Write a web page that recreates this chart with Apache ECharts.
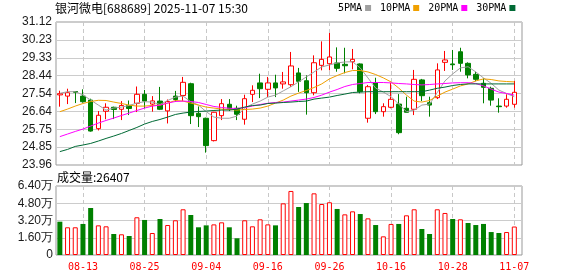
<!DOCTYPE html>
<html><head><meta charset="utf-8">
<script src="https://cdn.jsdelivr.net/npm/echarts@6/dist/echarts.min.js"></script>
<style>html,body{margin:0;padding:0;background:#fff}#c{width:578px;height:276px}</style>
</head><body><div id="c"></div>
<script>
const dates = ['08-08','08-11','08-12','08-13','08-14','08-15','08-18','08-19','08-20','08-21','08-22','08-25','08-26','08-27','08-28','08-29','09-01','09-02','09-03','09-04','09-05','09-08','09-09','09-10','09-11','09-12','09-15','09-16','09-17','09-18','09-19','09-22','09-23','09-24','09-25','09-26','09-29','09-30','10-09','10-10','10-13','10-14','10-15','10-16','10-17','10-20','10-21','10-22','10-23','10-24','10-27','10-28','10-29','10-30','10-31','11-03','11-04','11-05','11-06','11-07'];
const openP = [27.47,27.41,27.64,27.41,27.21,25.78,26.65,26.85,26.75,26.94,27.05,27.50,27.01,27.16,26.67,27.41,27.44,28.03,26.55,26.30,25.18,26.43,27.00,26.80,26.25,27.50,28.07,27.75,28.07,28.02,27.98,28.57,28.18,27.58,28.95,29.03,29.07,29.00,29.13,29.02,26.30,28.08,26.63,26.85,27.01,26.80,26.75,28.22,27.08,27.33,29.10,29.02,29.63,29.05,28.50,28.05,27.80,26.91,26.91,27.00];
const closeP = [27.53,27.58,27.60,27.13,25.66,26.45,26.85,26.74,26.94,26.79,27.50,27.16,27.17,26.75,27.14,27.24,28.10,26.43,26.38,24.93,26.60,27.03,26.80,26.50,27.28,27.70,27.78,28.07,27.82,28.12,28.92,28.15,27.58,29.08,29.25,29.37,28.80,28.93,29.25,27.63,27.88,26.63,26.88,27.25,25.58,26.60,28.25,27.43,26.96,28.72,29.22,28.98,29.05,28.47,28.25,27.85,27.21,26.88,27.25,27.60];
const lowP = [26.88,27.01,27.06,27.08,25.63,25.69,26.25,26.26,26.21,26.46,26.61,26.80,26.63,26.71,26.04,27.13,27.16,26.01,25.86,24.58,25.14,26.21,26.66,26.21,25.98,27.11,27.31,27.36,27.36,27.78,27.87,27.62,26.48,27.45,28.70,28.70,28.63,28.55,28.75,27.55,26.08,26.51,26.38,26.80,25.50,26.58,26.46,27.16,26.38,27.26,28.67,28.72,28.63,28.30,28.15,27.05,26.93,26.58,26.83,26.83];
const highP = [27.68,27.78,27.66,27.75,27.28,26.66,27.05,26.88,27.16,27.19,27.89,27.72,27.41,27.87,27.24,27.67,28.37,28.08,26.89,26.33,26.62,27.26,27.26,26.93,27.48,27.95,28.53,28.37,28.48,28.62,29.62,28.82,28.45,29.45,30.15,30.57,29.85,29.83,29.77,29.05,27.97,28.33,27.05,28.08,27.51,27.38,28.72,28.27,27.38,29.05,29.67,29.72,29.83,29.10,28.63,28.30,27.88,27.30,27.50,28.17];
const ma5 = [27.55,27.63,27.63,27.47,27.21,26.96,26.71,26.81,26.86,26.94,27.06,27.13,27.11,26.99,27.19,27.36,27.41,27.13,26.96,26.63,26.36,26.30,26.30,26.41,26.81,27.01,27.16,27.36,27.46,27.67,27.88,28.12,28.37,28.62,28.87,28.97,29.07,29.12,29.13,28.82,28.32,27.81,27.61,27.38,27.01,26.63,26.71,26.96,27.01,27.59,28.17,28.52,28.82,28.88,28.62,28.32,28.05,27.71,27.54,27.38];
const ma10 = [26.63,26.76,26.91,27.04,27.14,27.20,27.19,27.11,27.04,26.96,26.91,26.91,26.94,26.96,27.06,27.19,27.16,27.06,26.96,26.86,26.81,26.76,26.74,26.71,26.74,26.76,26.81,26.91,27.06,27.21,27.41,27.56,27.69,27.84,28.02,28.27,28.44,28.59,28.69,28.69,28.62,28.49,28.32,28.12,27.81,27.46,27.16,27.11,27.19,27.41,27.61,27.76,27.92,28.02,28.17,28.27,28.24,28.17,28.14,28.12];
const ma20 = [25.38,25.51,25.64,25.76,25.91,26.06,26.19,26.31,26.44,26.56,26.69,26.81,26.91,26.96,27.06,27.14,27.16,27.14,27.09,26.99,26.89,26.84,26.80,26.79,26.84,26.91,26.99,27.05,27.09,27.11,27.16,27.21,27.26,27.34,27.46,27.61,27.74,27.89,27.99,28.04,28.09,28.09,28.09,28.07,28.04,28.02,27.99,27.97,27.99,28.02,28.04,28.07,28.08,28.08,28.04,27.92,27.76,27.61,27.54,27.46];
const ma30 = [24.63,24.74,24.89,24.96,25.04,25.16,25.29,25.41,25.54,25.69,25.84,26.01,26.14,26.24,26.36,26.49,26.56,26.61,26.64,26.66,26.69,26.71,26.71,26.76,26.86,26.94,26.96,27.04,27.06,27.09,27.11,27.14,27.16,27.26,27.31,27.36,27.44,27.51,27.59,27.61,27.63,27.63,27.63,27.63,27.63,27.63,27.63,27.63,27.71,27.80,27.86,27.94,27.99,28.02,28.02,28.02,28.02,28.02,28.02,28.02];
const volume = [30900,25700,25700,28800,43600,27500,26600,19500,19200,17600,35000,32500,20400,33400,27800,32200,42400,37100,25700,27500,28400,30300,25700,15500,32200,26600,33100,28400,27500,47900,59400,44500,48200,57200,47300,48900,42700,37700,40500,38000,34000,27800,17300,28800,28800,36800,42400,24100,19500,42400,39000,33400,33100,29700,27800,28800,21300,20400,21300,26407];
const volDir = [-1,1,1,-1,-1,1,1,-1,1,-1,1,-1,1,-1,1,1,1,-1,-1,-1,1,1,-1,-1,1,1,1,1,-1,1,1,-1,-1,1,1,1,-1,1,1,-1,1,-1,1,1,-1,1,1,-1,-1,1,1,-1,1,-1,-1,-1,-1,-1,1,1];
const priceTicks = ['23.96','24.85','25.75','26.64','27.54','28.44','29.33','30.23','31.12'];
const volTicks = ['0','1.60万','3.20万','4.80万','6.40万'];
const maNames = ['5PMA','10PMA','20PMA','30PMA'];
const maColors = ['#a0a0a0','#f0a000','#ff00ff','#006a35'];
const titleText = '银河微电[688689] 2025-11-07 15:30';
const volText = '成交量:26407';

const chart = echarts.init(document.getElementById('c'), null, {renderer: 'canvas'});
const L = 56, W = 466, DW = W / 60.5 * 60;
const labelFn = (idx) => (idx - 3) % 8 === 0;
const dashLine = {show: true, interval: labelFn, alignWithLabel: true, lineStyle: {color: '#c8c8c8', type: [4, 3], width: 1}};
const lblFont = {fontFamily: 'Liberation Sans', fontSize: 12, color: '#1a1a1a'};

const option = {
  animation: false,
  backgroundColor: '#fff',
  title: [
    {text: titleText, left: 55, top: 2, padding: 0, textStyle: {fontFamily: 'Noto Sans CJK SC', fontSize: 12, fontWeight: 'normal', color: '#000'}},
    {text: volText, left: 57, top: 171, padding: 0, textStyle: {fontFamily: 'Noto Sans CJK SC', fontSize: 12, fontWeight: 'normal', color: '#000'}}
  ],
  legend: {left: 338, top: 3, padding: 0, align: 'right', icon: 'rect', itemWidth: 6, itemHeight: 6, itemGap: 9, selectedMode: false,
    textStyle: {fontFamily: 'DejaVu Sans Mono', fontSize: 10, color: '#000', padding: [0, -2, 0, 0]}, data: maNames},
  grid: [
    {left: L, top: 22, width: W, height: 143, show: true, borderColor: '#999', borderWidth: 1},
    {left: L, top: 22, width: DW, height: 143},
    {left: L, top: 186, width: W, height: 69, show: true, borderColor: '#999', borderWidth: 1},
    {left: L, top: 186, width: DW, height: 69}
  ],
  xAxis: [
    {gridIndex: 0, type: 'value', min: 0, max: 1, show: false},
    {gridIndex: 1, type: 'category', data: dates, boundaryGap: true, axisLine: {show: false}, axisTick: {show: false}, axisLabel: {show: false}, splitLine: dashLine},
    {gridIndex: 2, type: 'value', min: 0, max: 1, show: false},
    {gridIndex: 3, type: 'category', data: dates, boundaryGap: true, axisLine: {show: false}, axisTick: {show: false},
      axisLabel: {show: true, interval: labelFn, margin: 7, color: '#ff0000', fontFamily: 'DejaVu Sans Mono', fontSize: 10}, splitLine: dashLine}
  ],
  yAxis: [
    {gridIndex: 0, type: 'value', min: 0, max: 8, interval: 1, axisLine: {show: false}, axisTick: {show: false},
      axisLabel: Object.assign({margin: 4, formatter: v => priceTicks[Math.round(v)]}, lblFont), splitLine: {show: true, lineStyle: {color: '#cccccc', width: 1}}},
    {gridIndex: 1, type: 'value', min: 23.96, max: 31.12, show: false},
    {gridIndex: 2, type: 'value', min: 0, max: 4, interval: 1, axisLine: {show: false}, axisTick: {show: false},
      axisLabel: Object.assign({margin: 3, formatter: v => volTicks[Math.round(v)]}, lblFont), splitLine: {show: true, lineStyle: {color: '#cccccc', width: 1}}},
    {gridIndex: 3, type: 'value', min: 0, max: 64000, show: false}
  ],
  series: [
    {type: 'candlestick', xAxisIndex: 1, yAxisIndex: 1, barWidth: 5, silent: true,
      data: dates.map((d, i) => [openP[i], closeP[i], lowP[i], highP[i]]),
      itemStyle: {color: '#ffffff', color0: '#008000', borderColor: '#ff0000', borderColor0: '#008000', borderColorDoji: '#008000', borderWidth: 1}},
    ...[ma5, ma10, ma20, ma30].map((arr, k) => ({
      type: 'line', name: maNames[k], xAxisIndex: 1, yAxisIndex: 1, data: arr, showSymbol: false, symbol: 'none', silent: true,
      color: maColors[k], lineStyle: {color: maColors[k], width: 1}})),
    {type: 'bar', xAxisIndex: 3, yAxisIndex: 3, barWidth: 5, silent: true,
      data: volume.map((v, i) => ({value: v, itemStyle: volDir[i] > 0 ? {color: '#ffffff', borderColor: '#ff0000', borderWidth: 1} : {color: '#008000'}}))}
  ]
};
chart.setOption(option);
</script></body></html>
